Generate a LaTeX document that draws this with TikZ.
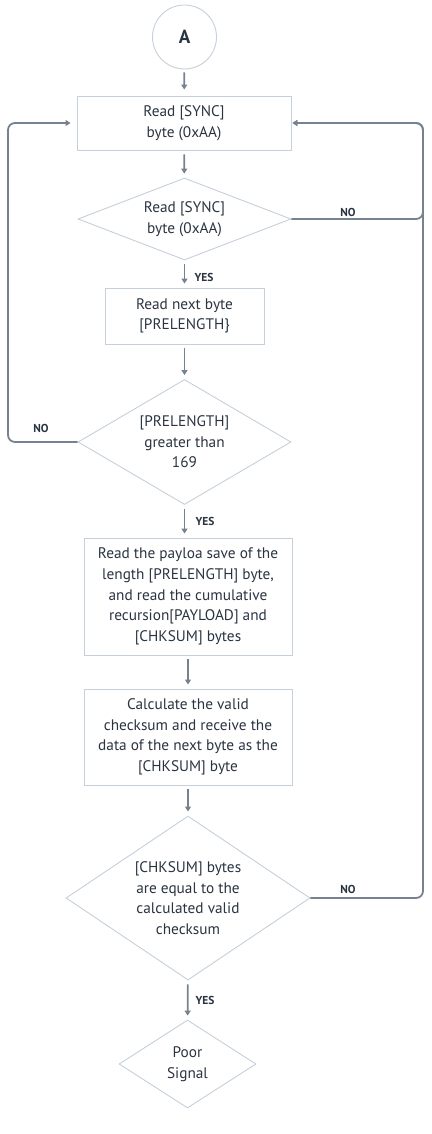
\documentclass[tikz,border=0pt]{standalone}
\usepackage{fontspec}
\setmainfont{PT Sans}
\usetikzlibrary{shapes.geometric,arrows.meta}
\definecolor{linec}{HTML}{76828F}
\definecolor{boxc}{HTML}{C5D0DA}
\definecolor{txtc}{HTML}{2A3441}
\tikzset{
  x=1pt,y=-1pt,
  txt/.style={text=txtc,font=\fontsize{15.3}{20.6}\selectfont,align=center},
  box/.style={draw=boxc,line width=0.9pt,rectangle,inner sep=0pt,txt},
  dia/.style={draw=boxc,line width=0.9pt,diamond,inner sep=0pt},
  arr/.style={draw=linec,line width=1.8pt,-{Triangle[length=5pt,width=6pt]},shorten <=4pt,shorten >=4pt},
  loop/.style={draw=linec,line width=1.8pt,rounded corners=7pt,-{Triangle[length=5pt,width=6pt]}},
  lab/.style={text=txtc,font=\fontsize{11.5}{13}\selectfont\bfseries}
}
\begin{document}
\begin{tikzpicture}
\useasboundingbox (0,0) rectangle (431,1134);
\node[draw=boxc,line width=0.9pt,circle,minimum size=64pt,inner sep=0pt,text=txtc,font=\fontsize{19}{20}\selectfont\bfseries] (A) at (184.5,37) {A};
\node[box,minimum width=214pt,minimum height=54pt] (b1) at (184,123) {Read [SYNC]\\byte (0xAA)};
\node[dia,minimum width=213pt,minimum height=82pt,label={[txt]center:Read [SYNC]\\byte (0xAA)}] (d1) at (184.5,219) {};
\node[box,minimum width=159pt,minimum height=56pt] (b2) at (184.5,316) {Read next byte\\{}[PRELENGTH\}};
\node[dia,minimum width=213pt,minimum height=125pt,label={[txt]center:[PRELENGTH]\\greater than\\169}] (d2) at (184.5,442) {};
\node[box,minimum width=208pt,minimum height=117pt] (b3) at (188,596.5) {Read the payloa save of the\\length [PRELENGTH] byte,\\and read the cumulative\\recursion[PAYLOAD] and\\{}[CHKSUM] bytes};
\node[box,minimum width=208pt,minimum height=96pt] (b4) at (188,737) {Calculate the valid\\checksum and receive the\\data of the next byte as the\\{}[CHKSUM] byte};
\node[dia,minimum width=244pt,minimum height=164pt,label={[txt]center:[CHKSUM] bytes\\are equal to the\\calculated valid\\checksum}] (d3) at (188,898) {};
\node[dia,minimum width=137pt,minimum height=88pt,label={[txt]center:Poor\\Signal}] (d4) at (187.5,1064) {};
\coordinate (r1) at (423,219);
\coordinate (r2) at (423,123);
\coordinate (r3) at (423,898);
\coordinate (l1) at (8,442);
\coordinate (l2) at (8,123);
\path[arr,shorten <=3pt,shorten >=6pt] (A) -- (b1);
\path[arr] (b1) -- (d1);
\path[arr] (d1) -- (b2);
\path[arr] (b2) -- (d2);
\path[arr] (d2.south) -- (d2.south |- b3.north);
\path[arr] (b3) -- (b4);
\path[arr] (b4) -- (d3);
\path[arr] (d3) -- (d4);
\path[loop,shorten >=1pt] (d1.east) -- (r1) -- (r2) -- (b1.east);
\path[loop,shorten >=1pt] (d3.east) -- (r3) -- (r2) -- (b1.east);
\path[loop,shorten >=6pt] (d2.west) -- (l1) -- (l2) -- (b1.west);
\node[lab] (n1) at (348,212) {NO};
\node[lab] (n2) at (41,428) {NO};
\node[lab] (n3) at (348,889) {NO};
\node[lab] (y1) at (204,277) {YES};
\node[lab] (y2) at (205,521) {YES};
\node[lab] (y3) at (205,1000) {YES};
\end{tikzpicture}
\end{document}
